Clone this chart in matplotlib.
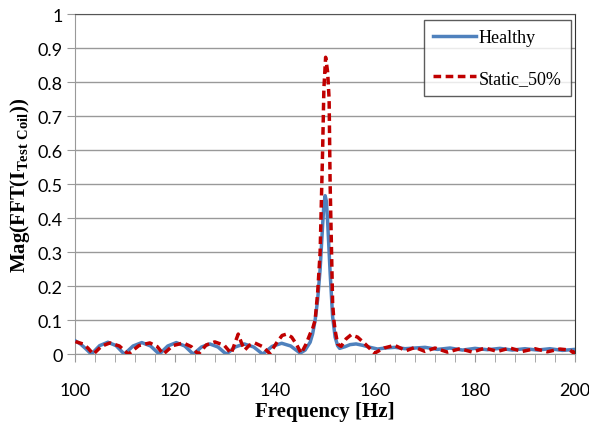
import matplotlib
matplotlib.use('Agg')
import matplotlib.pyplot as plt
import numpy as np

# data (frequency in Hz, FFT magnitude)
freq_healthy = [100, 101, 102, 103.2, 104.85, 106.5, 108.15, 109.8, 111.55, 113.3, 115.05,
                116.8, 118.5, 120.2, 121.9, 123.6, 125.25, 126.9, 128.55, 130.2, 132,
                133.8, 135.7, 137.5, 139.4, 141.3, 143.1, 145, 146, 147, 147.5, 148, 148.5,
                149, 149.5, 149.75, 150, 150.25, 150.5, 151, 151.5, 152, 152.5, 152.9, 154,
                155, 156.2, 157.5, 159, 160.5, 162, 164, 166, 168, 170, 172.5, 175, 177.5,
                180, 182.5, 185, 187.5, 190, 192.5, 195, 197.5, 200]
mag_healthy = [0.039, 0.03, 0.017, 0.0, 0.025, 0.035, 0.025, 0.0, 0.024, 0.034, 0.024,
               0.0, 0.024, 0.034, 0.024, 0.0, 0.021, 0.03, 0.021, 0.0, 0.021,
               0.03, 0.021, 0.0, 0.023, 0.032, 0.024, 0.003, 0.012, 0.035, 0.06, 0.1, 0.16,
               0.25, 0.38, 0.44, 0.466, 0.45, 0.39, 0.24, 0.11, 0.05, 0.025, 0.017, 0.022,
               0.028, 0.03, 0.026, 0.02, 0.015, 0.018, 0.02, 0.016, 0.018, 0.02, 0.014,
               0.018, 0.012, 0.017, 0.013, 0.017, 0.012, 0.016, 0.012, 0.016, 0.011, 0.014]

freq_static = [100, 101.5, 102.5, 103.6, 105.2, 106.9, 108.8, 110.6, 112.7, 114.9, 116.4,
               117.6, 119.5, 121.6, 123.2, 124.6, 126.2, 127.9, 129.8, 131.2, 132, 132.6,
               133.2, 133.9, 134.8, 135.9, 137.5, 138.9, 140.5, 141.4, 142.3, 143.3, 144.3,
               145.2, 146.2, 147, 147.5, 148, 148.5, 149, 149.5, 149.75, 150.1, 150.5,
               150.8, 151, 151.5, 151.75, 152, 152.5, 153.2, 154.2, 155.2, 156.5, 158,
               159.9, 161.8, 163.9, 166.2, 168, 170, 172, 174.5, 177, 179.5, 182, 184.5,
               187, 189.5, 192, 194.5, 197, 199, 199.8, 200]
mag_static = [0.037, 0.03, 0.018, 0.0, 0.023, 0.033, 0.024, 0.0, 0.025, 0.033, 0.022,
              0.0, 0.025, 0.033, 0.022, 0.0, 0.027, 0.036, 0.026, 0.002, 0.035, 0.059,
              0.035, 0.012, 0.026, 0.033, 0.022, 0.002, 0.038, 0.055, 0.059, 0.05, 0.028,
              0.002, 0.03, 0.06, 0.075, 0.1, 0.18, 0.3, 0.6, 0.78, 0.873, 0.83,
              0.75, 0.5, 0.15, 0.1, 0.07, 0.03, 0.023, 0.045, 0.057, 0.05, 0.03,
              0.003, 0.018, 0.026, 0.01, 0.02, 0.008, 0.018, 0.006, 0.016, 0.006, 0.018,
              0.008, 0.018, 0.008, 0.016, 0.007, 0.015, 0.012, 0.003, 0.01]

plt.rcParams['mathtext.fontset'] = 'custom'
plt.rcParams['mathtext.rm'] = 'Liberation Serif'
plt.rcParams['mathtext.bf'] = 'Liberation Serif:bold'

fig = plt.figure(figsize=(5.89, 4.31), dpi=100)
ax = fig.add_axes([0.128, 0.176, 0.848, 0.789])

ax.plot(freq_healthy, mag_healthy, color='#4f81bd', lw=2.5, label='Healthy', zorder=3,
        solid_joinstyle='round')
ax.plot(freq_static, mag_static, color='#c00000', lw=2.5, ls=(0, (2.2, 1.3)),
        label='Static_50%', zorder=4)

ax.set_xlim(100, 200)
ax.set_ylim(0, 1)
ax.set_xticks(np.arange(100, 201, 20))
ax.set_xticks(np.arange(100, 201, 4), minor=True)
ax.set_yticks(np.arange(0, 1.01, 0.1))
ax.set_yticklabels(['0', '0.1', '0.2', '0.3', '0.4', '0.5', '0.6', '0.7', '0.8', '0.9', '1'])
ax.grid(axis='y', color='#999999', lw=1)
ax.set_axisbelow(True)

for lab in ax.get_xticklabels() + ax.get_yticklabels():
    lab.set_fontfamily('Lato')
    lab.set_fontsize(13)
ax.tick_params(axis='x', which='both', direction='out', length=6, color='#999999', pad=8)
ax.tick_params(axis='x', which='major', pad=14)
ax.tick_params(axis='y', length=6, direction='out', color='#999999', pad=3)

ax.spines['left'].set_color('#999999')
ax.spines['bottom'].set_color('#999999')
ax.spines['top'].set_color('#555555')
ax.spines['right'].set_color('#333333')

ax.set_xlabel('Frequency [Hz]', fontfamily='Liberation Serif', fontweight='bold',
              fontsize=15, labelpad=2)
ax.set_ylabel(r'$\mathbf{Mag(FFT(I_{Test\ Coil}))}$', fontsize=15, labelpad=4)

leg = ax.legend(loc='upper right', bbox_to_anchor=(0.992, 0.982),
                prop={'family': 'Liberation Serif', 'size': 13},
                frameon=True, fancybox=False, edgecolor='#333333',
                handlelength=2.4, handletextpad=0.15, labelspacing=1.3,
                borderpad=0.5, borderaxespad=0.0)
leg.get_frame().set_linewidth(1)

fig.savefig('out.png', dpi=100)
